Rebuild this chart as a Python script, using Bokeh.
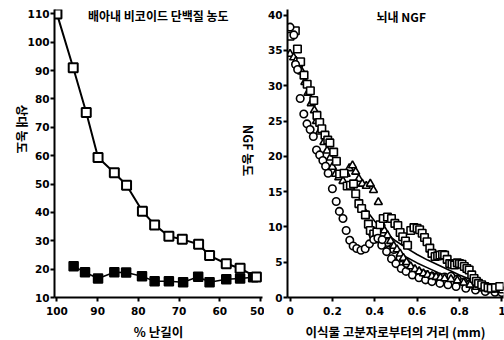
import math
from bokeh.plotting import figure
from bokeh.layouts import row
from bokeh.models import Range1d, FixedTicker, Label, NumeralTickFormatter
from bokeh.embed import file_html
from bokeh.resources import INLINE

# ---------------- data: left panel (bicoid protein) ----------------
left_x_ticks = [100, 90, 80, 70, 60, 50]
left_y_ticks = [10, 20, 30, 40, 50, 60, 70, 80, 90, 100, 110]
egg_len_open = [100, 96, 92.8, 89.9, 85.9, 82.9, 79, 76, 72.5, 69.2, 65.2, 62.5, 58.4, 55, 51]
rel_open = [110, 91, 75.2, 59.4, 54, 49.6, 40.4, 35.6, 31.6, 30.5, 28.8, 24.8, 21.9, 20.3, 17.2]
egg_len_filled = [95.9, 93.1, 89.9, 85.9, 83, 79.1, 76, 72.5, 69, 65.3, 62.5, 58.4, 55, 51.8]
rel_filled = [21.0, 18.9, 16.7, 18.9, 18.8, 17.5, 15.7, 15.7, 15.4, 17.3, 15.4, 16.4, 16.7, 17.1]

# ---------------- data: right panel (NGF) ----------------
right_x_ticks = [0, 0.2, 0.4, 0.6, 0.8, 1]
right_y_ticks = [0, 5, 10, 15, 20, 25, 30, 35, 40]

circ1_x = [0.0, 0.018, 0.026, 0.036, 0.048, 0.065, 0.08, 0.095, 0.11, 0.125, 0.14, 0.155, 0.168,
           0.18, 0.2, 0.218, 0.233, 0.25, 0.265, 0.282, 0.298, 0.315, 0.335, 0.355, 0.375, 0.395,
           0.415, 0.435]
circ1_y = [38.3, 37.2, 33.0, 32.3, 28.2, 26.0, 24.6, 23.8, 22.8, 20.9, 20.2, 19.4, 18.6,
           17.6, 15.4, 13.6, 12.2, 11.2, 9.5, 8.1, 7.3, 6.95, 6.7, 6.9, 7.6, 8.2,
           8.4, 8.2]
circ2_x = [0.39, 0.41, 0.433, 0.456, 0.479, 0.5, 0.525, 0.548, 0.578, 0.609, 0.64, 0.67, 0.708,
           0.746, 0.784, 0.83, 0.876, 0.922, 0.968, 1.0]
circ2_y = [9.0, 8.3, 7.4, 6.5, 5.5, 4.8, 4.1, 3.7, 3.2, 2.8, 2.5, 2.25, 2.0,
           1.8, 1.55, 1.3, 1.07, 0.85, 0.75, 0.7]
circ3_x = [0.46, 0.49, 0.52, 0.55, 0.58, 0.61, 0.64, 0.67, 0.7, 0.73, 0.76, 0.79, 0.82,
           0.85, 0.88, 0.91, 0.94, 0.97, 1.0]
circ3_y = [7.8, 6.8, 5.6, 4.8, 4.0, 3.5, 3.2, 3.0, 2.8, 2.9, 3.0, 2.6, 2.2,
           1.9, 1.6, 1.4, 1.2, 1.1, 1.0]

sq_x = [0.0, 0.025, 0.035, 0.05, 0.066, 0.081, 0.096, 0.112, 0.127, 0.14, 0.15, 0.165, 0.178,
        0.188, 0.206, 0.219, 0.234, 0.255, 0.27, 0.285, 0.30, 0.31, 0.325, 0.338, 0.356, 0.37,
        0.379, 0.395, 0.41, 0.425, 0.44, 0.46, 0.479, 0.495, 0.509, 0.52, 0.532, 0.545, 0.555,
        0.57, 0.585, 0.6, 0.612, 0.624, 0.635, 0.647, 0.66, 0.67, 0.685, 0.697, 0.708, 0.72,
        0.73, 0.742, 0.754, 0.765, 0.777, 0.79, 0.80, 0.812, 0.823, 0.835, 0.846, 0.858, 0.869,
        0.88, 0.89, 0.905, 0.92, 0.935, 0.95, 0.97, 0.99]
sq_y = [37.0, 37.8, 35.2, 33.4, 31.5, 30.2, 29.3, 27.9, 25.8, 24.8, 23.9, 23.0, 22.3,
        21.9, 20.6, 19.3, 17.5, 17.6, 15.8, 15.9, 16.1, 14.7, 13.3, 12.6, 11.7, 10.4,
        9.5, 9.0, 9.3, 10.3, 11.2, 11.4, 11.2, 10.5, 10.2, 9.2, 8.6, 8.0, 7.4,
        9.5, 9.9, 9.8, 9.6, 9.1, 8.5, 7.9, 7.0, 6.25, 5.8, 5.9, 6.0, 6.1,
        6.0, 5.4, 4.8, 4.7, 4.6, 4.9, 4.8, 4.7, 4.4, 4.1, 3.9, 3.2, 2.7,
        2.3, 2.0, 1.8, 1.55, 1.4, 1.3, 1.4, 1.55]

tri_x = [0.0, 0.017, 0.028, 0.04, 0.055, 0.07, 0.085, 0.1, 0.115, 0.125, 0.14, 0.16, 0.175,
         0.19, 0.2, 0.215, 0.23, 0.25, 0.265, 0.28, 0.295, 0.31, 0.325, 0.341, 0.36, 0.379,
         0.394, 0.417, 0.43, 0.445, 0.46, 0.475, 0.49, 0.505, 0.52, 0.535, 0.55, 0.57, 0.59,
         0.61, 0.63, 0.65, 0.67, 0.69, 0.71, 0.73, 0.76, 0.79, 0.82, 0.85, 0.88, 0.91, 0.94,
         0.97, 1.0]
tri_y = [34.5, 34.0, 33.5, 33.0, 32.0, 30.5, 29.0, 27.5, 26.5, 25.0, 23.5, 22.0, 20.8,
         19.8, 18.5, 17.5, 17.0, 16.5, 17.5, 18.3, 18.7, 17.8, 16.8, 16.1, 15.8, 16.1,
         15.2, 13.5, 10.5, 9.5, 8.8, 8.0, 7.3, 6.8, 6.2, 5.6, 5.0, 4.4, 4.0,
         3.7, 3.4, 3.2, 3.0, 2.9, 2.8, 2.7, 2.6, 2.4, 2.1, 1.8, 1.5, 1.3, 1.2,
         1.1, 1.0]

fit1_x = [0.30, 0.35, 0.40, 0.45, 0.50, 0.55, 0.60, 0.65, 0.70, 0.75, 0.80, 0.85, 0.90, 0.95, 1.0]
fit1_y = [15.5, 12.8, 10.8, 9.2, 8.0, 7.0, 6.1, 5.3, 4.6, 3.9, 3.2, 2.6, 2.0, 1.6, 1.3]
fit2_x = [0.36, 0.40, 0.45, 0.50, 0.55, 0.60, 0.65, 0.70, 0.75, 0.80, 0.85, 0.90, 0.95, 1.0]
fit2_y = [10.0, 8.8, 7.6, 6.6, 5.7, 4.9, 4.2, 3.5, 2.9, 2.3, 1.8, 1.4, 1.1, 0.9]

left_title = "배아내 비코이드 단백질 농도"
right_title = "뇌내 NGF"
left_xlabel = "% 난길이"
left_ylabel = "상대 농도"
right_xlabel = "이식물 고분자로부터의 거리 (mm)"
right_ylabel = "NGF 농도"

NUM_FONT = "DejaVu Sans"
KR_FONT = "Noto Sans CJK KR"
LABEL_SIZE = "12.5px"


def style(p):
    p.outline_line_color = None
    p.xgrid.visible = False
    p.ygrid.visible = False
    p.background_fill_color = "white"
    p.border_fill_color = "white"
    for ax in p.axis:
        ax.axis_line_width = 2
        ax.axis_line_color = "black"
        ax.major_tick_line_width = 2
        ax.major_tick_line_color = "black"
        ax.major_tick_out = 4
        ax.major_tick_in = 0
        ax.minor_tick_line_color = None
        ax.major_label_text_font = NUM_FONT
        ax.major_label_text_font_style = "bold"
        ax.major_label_text_font_size = "10.5px"
        ax.major_label_text_color = "black"
        ax.major_label_standoff = 1
        ax.axis_label_text_font = KR_FONT
        ax.axis_label_text_font_style = "bold"
        ax.axis_label_text_font_size = LABEL_SIZE
        ax.axis_label_text_color = "black"
        ax.axis_label_standoff = 2
    for ax in p.xaxis:
        ax.major_label_standoff = 5
        ax.axis_label_standoff = 4


# ---------------- left figure ----------------
p1 = figure(frame_width=208, frame_height=288,
            x_range=Range1d(100.6, 49.5), y_range=Range1d(10, 111.55),
            min_border_left=44, min_border_right=2, min_border_top=9, min_border_bottom=40,
            output_backend="svg", toolbar_location=None)
style(p1)
p1.xaxis.ticker = FixedTicker(ticks=left_x_ticks)
p1.yaxis.ticker = FixedTicker(ticks=left_y_ticks)
p1.xaxis.axis_label = left_xlabel
p1.yaxis.axis_label = left_ylabel
try:
    p1.yaxis[0].axis_label_orientation = -math.pi / 2
except Exception:
    pass

p1.line(egg_len_open, rel_open, line_color="black", line_width=2)
p1.line(egg_len_filled, rel_filled, line_color="black", line_width=1.5)
p1.scatter(egg_len_filled, rel_filled, marker="square", size=9,
           fill_color="black", line_color="black", line_width=1.5)
p1.scatter(egg_len_open, rel_open, marker="square", size=9,
           fill_color="white", line_color="black", line_width=2)

p1.add_layout(Label(x=75.1, y=109.4, text=left_title, text_font=KR_FONT,
                    text_font_size="12px", text_font_style="bold",
                    text_baseline="middle", text_align="center", text_color="black"))
# y-axis title of the right panel sits over the right edge of the left panel
p1.add_layout(Label(x=53.0, y=61.8, text=right_ylabel, text_font=KR_FONT,
                    text_font_size=LABEL_SIZE, text_font_style="bold",
                    text_baseline="middle", text_align="center", angle=-math.pi / 2,
                    text_color="black"))

# ---------------- right figure ----------------
p2 = figure(frame_width=216, frame_height=288,
            x_range=Range1d(-0.012, 1.008), y_range=Range1d(0, 40.8),
            min_border_left=20, min_border_right=6, min_border_top=9, min_border_bottom=40,
            output_backend="svg", toolbar_location=None)
style(p2)
p2.xaxis.ticker = FixedTicker(ticks=right_x_ticks)
p2.xaxis.formatter = NumeralTickFormatter(format="0.[0]")
p2.yaxis.ticker = FixedTicker(ticks=right_y_ticks)
p2.xaxis.axis_label = right_xlabel

p2.line(fit1_x, fit1_y, line_color="black", line_width=1.6)
p2.line(fit2_x, fit2_y, line_color="black", line_width=1.6)
p2.scatter(circ3_x, circ3_y, marker="circle", size=7.5, fill_color="white",
           line_color="black", line_width=1.6)
p2.scatter(circ2_x, circ2_y, marker="circle", size=7.5, fill_color="white",
           line_color="black", line_width=1.6)
p2.scatter(tri_x, tri_y, marker="triangle", size=8, fill_color="white",
           line_color="black", line_width=1.6)
p2.scatter(sq_x, sq_y, marker="square", size=7.5, fill_color="white",
           line_color="black", line_width=1.6)
p2.scatter(circ1_x, circ1_y, marker="circle", size=7.5, fill_color="white",
           line_color="black", line_width=1.6)

p2.add_layout(Label(x=0.525, y=39.8, text=right_title, text_font=KR_FONT,
                    text_font_size="12px", text_font_style="bold",
                    text_baseline="middle", text_align="center", text_color="black"))

layout = row(p1, p2, spacing=0)
open("out.html", "w").write(file_html(layout, INLINE))
